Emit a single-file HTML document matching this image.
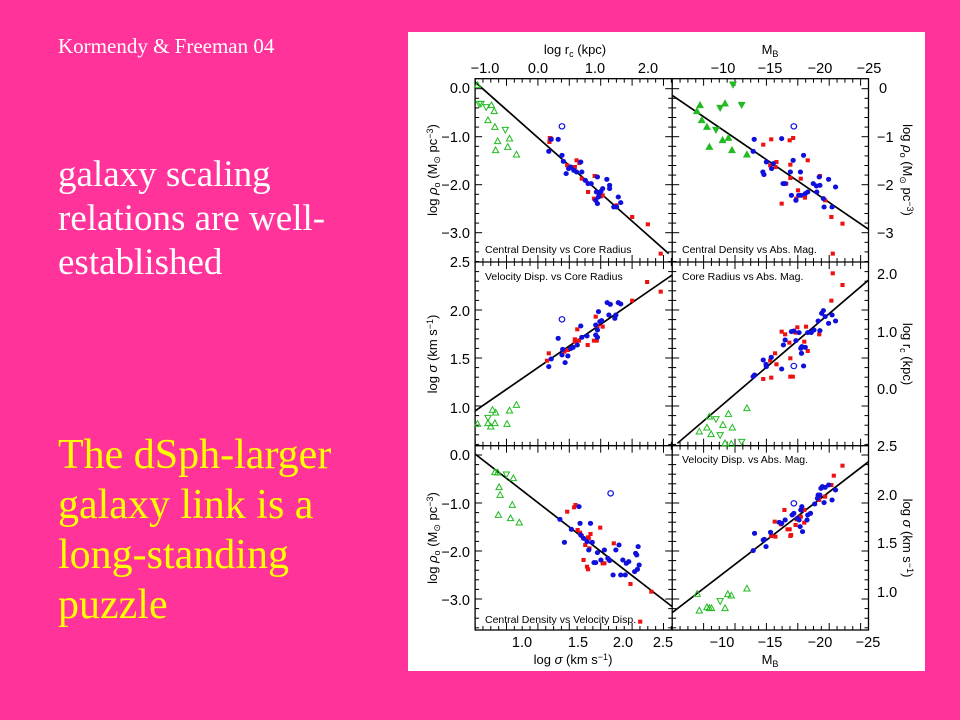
<!DOCTYPE html>
<html><head><meta charset="utf-8"><style>
body{margin:0;width:960px;height:720px;background:#FF3399;position:relative;overflow:hidden;font-family:"Liberation Serif",serif}
.t{position:absolute;color:#fff;white-space:nowrap}
svg{position:absolute;left:0;top:0}
</style></head><body>
<div class="t" style="left:58px;top:34px;font-size:21px">Kormendy &amp; Freeman 04</div>
<div class="t" style="left:58px;top:153px;font-size:37px;line-height:44px;color:#fff">galaxy scaling<br>relations are well-<br>established</div>
<div class="t" style="left:58px;top:430px;font-size:42px;line-height:50px;color:#FFFF00">The dSph-larger<br>galaxy link is a<br>long-standing<br>puzzle</div>
<svg width="960" height="720" viewBox="0 0 960 720" font-family="Liberation Sans, DejaVu Sans, sans-serif">
<rect x="408" y="32" width="517" height="639" fill="#fff"/>
<g id="ticks" stroke="#000" stroke-width="1"></g>
<g fill="none" stroke="#000" stroke-width="1.3">
<rect x="475.1" y="78.7" width="393.4" height="551.3"/>
<line x1="672.2" y1="78.7" x2="672.2" y2="630"/>
<line x1="475.1" y1="262" x2="868.5" y2="262"/>
<line x1="475.1" y1="445.7" x2="868.5" y2="445.7"/>
</g>
<g font-size="14.5" fill="#000">
<text x="485" y="73" text-anchor="middle">−1.0</text><text x="538" y="73" text-anchor="middle">0.0</text><text x="595" y="73" text-anchor="middle">1.0</text><text x="648" y="73" text-anchor="middle">2.0</text>
<text x="723" y="73" text-anchor="middle">−10</text><text x="770" y="73" text-anchor="middle">−15</text><text x="820" y="73" text-anchor="middle">−20</text><text x="869" y="73" text-anchor="middle">−25</text>
<text x="575" y="54" text-anchor="middle" font-size="13">log r<tspan font-size="9" dy="3">c</tspan><tspan dy="-3">  (kpc)</tspan></text>
<text x="770" y="54" text-anchor="middle" font-size="13">M<tspan font-size="9" dy="3">B</tspan></text>
<text x="522" y="647" text-anchor="middle">1.0</text><text x="578" y="647" text-anchor="middle">1.5</text><text x="623" y="647" text-anchor="middle">2.0</text><text x="663" y="647" text-anchor="middle">2.5</text>
<text x="722" y="647" text-anchor="middle">−10</text><text x="770" y="647" text-anchor="middle">−15</text><text x="820" y="647" text-anchor="middle">−20</text><text x="868" y="647" text-anchor="middle">−25</text>
<text x="573" y="664" text-anchor="middle" font-size="13">log <tspan font-style="italic">σ</tspan>  (km s<tspan font-size="9" dy="-4">−1</tspan><tspan dy="4">)</tspan></text>
<text x="770" y="664" text-anchor="middle" font-size="13">M<tspan font-size="9" dy="3">B</tspan></text>
<g text-anchor="end">
<text x="470" y="93">0.0</text><text x="470" y="142">−1.0</text><text x="470" y="190">−2.0</text><text x="470" y="238">−3.0</text>
<text x="470" y="267">2.5</text><text x="470" y="316">2.0</text><text x="470" y="364">1.5</text><text x="470" y="413">1.0</text>
<text x="470" y="460">0.0</text><text x="470" y="509">−1.0</text><text x="470" y="557">−2.0</text><text x="470" y="605">−3.0</text>
</g>
<text x="879" y="93">0</text><text x="877" y="142">−1</text><text x="877" y="190">−2</text><text x="877" y="238">−3</text>
<text x="877" y="279">2.0</text><text x="877" y="337">1.0</text><text x="877" y="394">0.0</text>
<text x="877" y="451">2.5</text><text x="877" y="500">2.0</text><text x="877" y="548">1.5</text><text x="877" y="597">1.0</text>
<g font-size="13">
<text transform="translate(437,170) rotate(-90)" text-anchor="middle">log <tspan font-style="italic">ρ</tspan><tspan font-size="9" dy="3">o</tspan><tspan dy="-3">  (M</tspan><tspan font-size="9" dy="3">⊙</tspan><tspan dy="-3"> pc</tspan><tspan font-size="9" dy="-4">−3</tspan><tspan dy="4">)</tspan></text>
<text transform="translate(437,354) rotate(-90)" text-anchor="middle">log <tspan font-style="italic">σ</tspan>  (km s<tspan font-size="9" dy="-4">−1</tspan><tspan dy="4">)</tspan></text>
<text transform="translate(437,538) rotate(-90)" text-anchor="middle">log <tspan font-style="italic">ρ</tspan><tspan font-size="9" dy="3">o</tspan><tspan dy="-3">  (M</tspan><tspan font-size="9" dy="3">⊙</tspan><tspan dy="-3"> pc</tspan><tspan font-size="9" dy="-4">−3</tspan><tspan dy="4">)</tspan></text>
<text transform="translate(903,170) rotate(90)" text-anchor="middle">log <tspan font-style="italic">ρ</tspan><tspan font-size="9" dy="3">o</tspan><tspan dy="-3">  (M</tspan><tspan font-size="9" dy="3">⊙</tspan><tspan dy="-3"> pc</tspan><tspan font-size="9" dy="-4">−3</tspan><tspan dy="4">)</tspan></text>
<text transform="translate(903,354) rotate(90)" text-anchor="middle">log r<tspan font-size="9" dy="3">c</tspan><tspan dy="-3">  (kpc)</tspan></text>
<text transform="translate(903,538) rotate(90)" text-anchor="middle">log <tspan font-style="italic">σ</tspan>  (km s<tspan font-size="9" dy="-4">−1</tspan><tspan dy="4">)</tspan></text>
</g>
<g font-size="10.5">
<text x="485" y="253">Central Density vs Core Radius</text>
<text x="682" y="253">Central Density vs Abs. Mag.</text>
<text x="485" y="280">Velocity Disp. vs Core Radius</text>
<text x="682" y="280">Core Radius vs Abs. Mag.</text>
<text x="485" y="623">Central Density vs Velocity Disp.</text>
<text x="682" y="463">Velocity Disp. vs Abs. Mag.</text>
</g>
</g>
<g id="p1" transform="translate(408,32) scale(0.3476,0.3333)"></g>
<g id="p2" transform="translate(408,250) scale(0.3476,0.3333)"></g>
<g id="p3" transform="translate(408,430) scale(0.3476,0.3333)"></g>
</svg>
<script>
var NS="http://www.w3.org/2000/svg";
function el(p,t,a){var e=document.createElementNS(NS,t);for(var k in a)e.setAttribute(k,a[k]);p.appendChild(e);return e;}
var T=document.getElementById('ticks');
function hx(x0,x1,y,dir){var n=0;for(var x=x0;x<=x1;x+=7.85,n++){var L=(n%4==0)?7:4;el(T,'line',{x1:x,y1:y,x2:x,y2:y+dir*L});}}
function vy(y0,y1,x,dir){var n=0;for(var y=y0;y<=y1;y+=9.6,n++){var L=(n%5==0)?7:4;el(T,'line',{x1:x,y1:y,x2:x+dir*L,y2:y});}}
[78.7,262,445.7,630].forEach(function(y,i){
 hx(475.1,672,y,i==3?-1:1);hx(672.2,868,y,i==3?-1:1);
 if(i>0&&i<3){hx(475.1,672,y,-1);hx(672.2,868,y,-1);}
});
[[88.7,262],[262,445],[455,630]].forEach(function(r){vy(r[0],r[1],475.1,1);vy(r[0],r[1],868.5,-1);vy(r[0],r[1],672.2,1);vy(r[0],r[1],672.2,-1);});
function panel(g,line,gu,gd,gfill,blue,open,red){
 var G=document.getElementById(g);
 el(G,'line',{x1:line[0],y1:line[1],x2:line[2],y2:line[3],stroke:'#000','stroke-width':5});
 var gc='#22bb22';
 gu.forEach(function(p){el(G,'polygon',{points:(p[0])+','+(p[1]-10)+' '+(p[0]-9)+','+(p[1]+7)+' '+(p[0]+9)+','+(p[1]+7),fill:gfill?gc:'none',stroke:gc,'stroke-width':3});});
 gd.forEach(function(p){el(G,'polygon',{points:(p[0])+','+(p[1]+10)+' '+(p[0]-9)+','+(p[1]-7)+' '+(p[0]+9)+','+(p[1]-7),fill:gfill?gc:'none',stroke:gc,'stroke-width':3});});
 red.forEach(function(p){el(G,'rect',{x:p[0]-6,y:p[1]-6,width:12,height:12,fill:'#ee1111'});});
 blue.forEach(function(p){el(G,'ellipse',{cx:p[0],cy:p[1],rx:7.5,ry:7.5,fill:'#1010dd'});});
 el(G,'circle',{cx:open[0],cy:open[1],r:8,fill:'none',stroke:'#1010dd','stroke-width':3.5});
}
panel('p1',[193,150,750,665],
[[200,160],[240,220],[248,238],[230,265],[250,285],[258,328],[252,355],[292,320],[287,345],[312,368]],
[[205,215],[210,215],[225,225],[280,293]],false,
[[405,358],[412,322],[432,322],[443,370],[447,388],[455,425],[462,410],[468,405],[477,415],[485,420],[497,390],[500,420],[510,445],[518,455],[527,455],[545,435],[542,480],[540,505],[545,515],[550,485],[555,478],[560,470],[572,442],[580,460],[580,470],[592,525],[600,525],[605,495],[612,512],[548,495]],
[443,283],
[[407,330],[408,318],[412,320],[458,400],[467,408],[478,408],[485,385],[493,393],[500,440],[518,480],[537,432],[535,500],[555,493],[560,490],[600,520],[645,555],[690,577],[727,665],[480,405]]);
panel('p1',[760,190,1325,592],
[[840,220],[831,238],[845,265],[860,285],[912,215],[905,325],[922,318],[867,345],[932,355],[975,368]],
[[935,157],[960,218],[898,227],[886,293]],true,
[[996,322],[993,358],[1031,390],[1021,420],[1024,428],[1046,410],[1051,395],[1075,320],[1079,455],[1085,455],[1100,420],[1108,385],[1103,490],[1116,505],[1124,490],[1129,420],[1138,370],[1131,490],[1143,485],[1150,480],[1166,455],[1176,480],[1183,435],[1185,460],[1195,500],[1197,525],[1210,442],[1230,465],[1220,525],[1175,462]],
[1110,283],
[[1022,338],[1045,322],[1060,390],[1057,405],[1042,400],[1100,398],[1100,438],[1098,325],[1108,318],[1075,515],[1088,455],[1122,475],[1117,500],[1150,385],[1185,432],[1200,505],[1218,555],[1250,575],[1222,665],[1142,497],[1130,440]]);
panel('p2',[193,483,760,75],
[[200,522],[230,520],[238,530],[250,520],[243,480],[252,488],[285,522],[292,482],[312,465]],
[[230,503]],false,
[[405,350],[412,327],[432,265],[443,315],[445,298],[452,338],[460,318],[468,296],[475,292],[487,285],[497,228],[500,262],[515,258],[540,255],[545,240],[548,185],[545,262],[552,215],[557,212],[573,158],[578,195],[582,163],[595,205],[598,195],[605,158],[612,162],[540,225]],
[443,208],
[[400,332],[405,310],[450,305],[460,300],[480,268],[487,238],[492,272],[517,285],[535,272],[540,200],[543,272],[545,228],[560,230],[645,152],[688,96],[727,125],[480,275]]);
panel('p2',[775,580,1325,90],
[[838,545],[860,533],[872,553],[867,500],[906,525],[922,492],[933,533],[975,475],[912,580],[930,582]],
[[886,507],[898,555],[960,575]],false,
[[993,380],[997,375],[1022,330],[1030,343],[1031,350],[1045,322],[1075,357],[1080,285],[1085,270],[1110,243],[1116,272],[1125,248],[1130,295],[1133,290],[1132,310],[1143,292],[1138,348],[1150,248],[1160,248],[1168,240],[1180,213],[1185,242],[1190,190],[1195,182],[1200,200],[1210,220],[1220,195],[1230,213],[1103,245]],
[1110,348],
[[1022,387],[1045,383],[1042,332],[1056,310],[1060,343],[1075,245],[1085,253],[1097,278],[1100,325],[1100,380],[1107,380],[1115,248],[1120,232],[1140,275],[1150,303],[1145,230],[1183,253],[1218,152],[1222,70],[1250,105]]);
panel('p3',[193,72,760,530],
[[250,127],[258,128],[262,172],[265,195],[260,255],[300,225],[295,265],[320,278],[303,145]],
[[283,133]],false,
[[437,268],[470,298],[450,337],[492,230],[495,280],[497,315],[505,325],[515,335],[525,280],[530,337],[540,398],[535,398],[545,368],[555,390],[565,360],[575,385],[580,392],[598,360],[607,345],[612,435],[618,390],[625,435],[628,400],[635,395],[655,370],[658,375],[662,350],[660,418],[652,425],[665,405],[520,360],[590,435]],
[583,190],
[[458,245],[478,232],[482,225],[488,300],[495,308],[500,318],[518,322],[522,355],[525,312],[520,325],[505,390],[515,410],[518,418],[553,293],[560,400],[565,400],[592,340],[640,462],[700,485],[668,575],[510,345]]);
panel('p3',[760,548,1325,95],
[[832,492],[838,542],[860,532],[867,535],[873,535],[920,493],[930,497],[912,535],[975,476]],
[[898,513]],false,
[[993,362],[997,310],[1022,330],[1030,350],[1025,328],[1043,307],[1068,277],[1075,280],[1085,270],[1105,255],[1110,250],[1120,265],[1125,270],[1130,240],[1133,230],[1128,290],[1135,305],[1148,270],[1150,255],[1158,250],[1170,222],[1178,205],[1180,195],[1188,175],[1192,170],[1200,172],[1210,165],[1197,218],[1220,210],[1230,180],[1185,195]],
[1110,220],
[[1045,318],[1057,320],[1055,275],[1083,240],[1073,283],[1092,298],[1098,298],[1100,318],[1102,315],[1115,285],[1118,268],[1140,278],[1140,240],[1183,210],[1200,200],[1218,165],[1225,137],[1250,107],[1130,260]]);
</script>
</body></html>
